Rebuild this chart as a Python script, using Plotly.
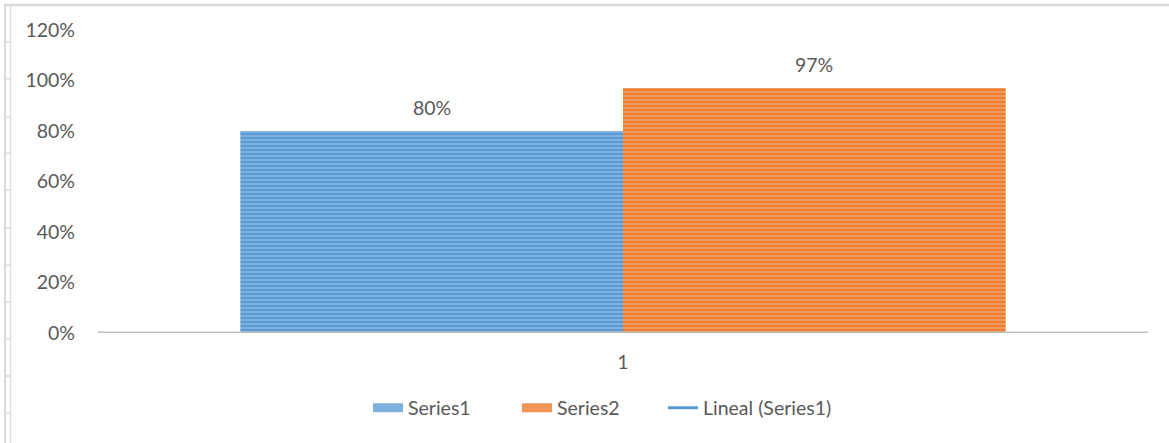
import plotly.graph_objects as go

categories = ["1"]
series1 = [0.80]
series2 = [0.97]
series_names = ["Series1", "Series2", "Lineal (Series1)"]
y_ticks = [0, 0.2, 0.4, 0.6, 0.8, 1.0, 1.2]
y_tick_labels = ["0%", "20%", "40%", "60%", "80%", "100%", "120%"]

BLUE = "#5B9BD5"
ORANGE = "#ED7D31"
TXT = "#595959"
FONT = "Lato"
FS = 19.5

W, H = 1169, 443
ML, MR, MT, MB = 98, 21, 30, 110
PW, PH = W - ML - MR, H - MT - MB


def px_x(xs):
    return (xs - ML) / PW


def px_y(ys):
    return (H - MB - ys) / PH


fig = go.Figure()
fig.add_trace(go.Bar(
    x=categories, y=series1, name=series_names[0], showlegend=False,
    marker=dict(color=BLUE, line=dict(width=0),
                pattern=dict(shape="-", fgcolor="#AACCEB", bgcolor=BLUE, size=4, solidity=0.45)),
))
fig.add_trace(go.Bar(
    x=categories, y=series2, name=series_names[1], showlegend=False,
    marker=dict(color=ORANGE, line=dict(width=0),
                pattern=dict(shape="-", fgcolor="#F7BE96", bgcolor=ORANGE, size=4, solidity=0.45)),
))
# legend entries (wide striped swatches in the reference)
fig.add_trace(go.Scatter(x=[None], y=[None], mode="lines", name=series_names[0],
                         line=dict(color="#7EB0DE", width=9), legend="legend"))
fig.add_trace(go.Scatter(x=[None], y=[None], mode="lines", name=series_names[1],
                         line=dict(color="#F19458", width=9), legend="legend"))
fig.add_trace(go.Scatter(x=[None], y=[None], mode="lines", name=series_names[2],
                         line=dict(color=BLUE, width=3), legend="legend2"))

bar_w = (1 - 0.271) / 2
for i, vals in enumerate([series1, series2]):
    for j, v in enumerate(vals):
        fig.add_annotation(
            x=j + (i - 0.5) * bar_w, y=v, text=f"{round(v*100)}%",
            showarrow=False, yanchor="bottom", yshift=10,
            font=dict(family=FONT, size=FS, color=TXT),
        )

legend_common = dict(orientation="h", yanchor="middle", y=px_y(408), xanchor="left",
                     font=dict(family=FONT, size=FS, color=TXT), itemwidth=30,
                     bgcolor="rgba(0,0,0,0)")

fig.update_layout(
    width=W, height=H,
    margin=dict(l=ML, r=MR, t=MT, b=MB),
    paper_bgcolor="white", plot_bgcolor="white",
    barmode="group", bargap=0.271, bargroupgap=0,
    font=dict(family=FONT, size=FS, color=TXT),
    showlegend=True,
    legend=dict(x=px_x(368), entrywidth=104, **legend_common),
    legend2=dict(x=px_x(663), **legend_common),
    xaxis=dict(type="category", showgrid=False, showline=False, zeroline=False,
               ticks="", tickfont=dict(family=FONT, size=FS, color=TXT), ticklabelstandoff=15),
    yaxis=dict(range=[0, 1.2], tickvals=y_ticks, ticktext=y_tick_labels, showgrid=False,
               zeroline=False, showline=False, ticks="",
               tickfont=dict(family=FONT, size=FS, color=TXT), ticklabelstandoff=22),
)

# baseline axis line
fig.add_shape(type="line", xref="paper", yref="y", x0=0, x1=1, y0=0, y1=0,
              line=dict(color="#BFBFBF", width=3), layer="above")
# outer frame lines (top and left, spreadsheet-like)
fig.add_shape(type="line", xref="paper", yref="paper", x0=px_x(4), x1=px_x(1175),
              y0=px_y(5), y1=px_y(5), line=dict(color="#D9D9D9", width=2.5))
fig.add_shape(type="line", xref="paper", yref="paper", x0=px_x(5), x1=px_x(5),
              y0=px_y(450), y1=px_y(5), line=dict(color="#D9D9D9", width=2))
fig.add_shape(type="line", xref="paper", yref="paper", x0=px_x(10.5), x1=px_x(10.5),
              y0=px_y(450), y1=px_y(5), line=dict(color="#DDDDDD", width=1.5))
for ys in [42, 79, 117, 153, 190, 228, 265, 302, 339, 376, 413]:
    fig.add_shape(type="line", xref="paper", yref="paper", x0=px_x(5), x1=px_x(10.5),
                  y0=px_y(ys), y1=px_y(ys), line=dict(color="#D9D9D9", width=1.5))

fig.write_html("out.html", config={"displayModeBar": False},
               post_script="document.body.style.margin='0';")
